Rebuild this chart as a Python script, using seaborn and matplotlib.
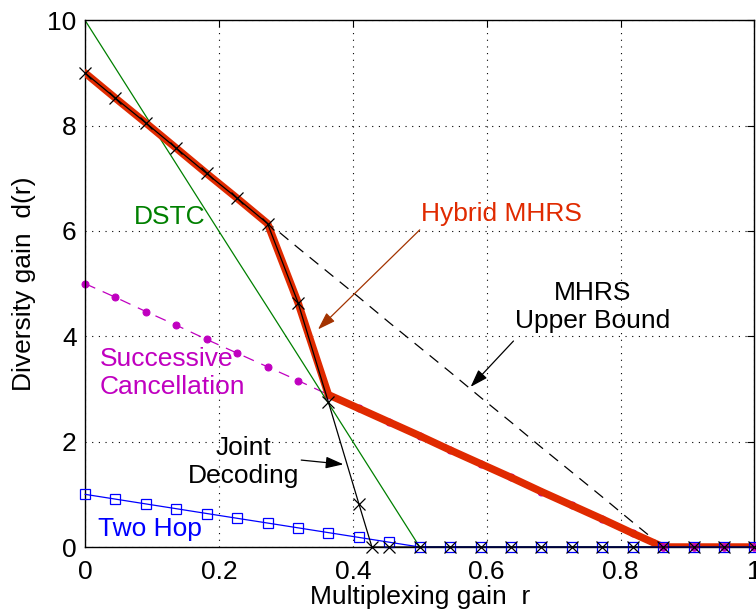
import matplotlib
matplotlib.use("Agg")
import matplotlib.pyplot as plt
import seaborn as sns
import pandas as pd

# ---- data ----
r_grid = [0, 0.0455, 0.0909, 0.1364, 0.1818, 0.2273, 0.2727, 0.3182, 0.3636,
          0.4091, 0.4545, 0.5, 0.5455, 0.5909, 0.6364, 0.6818, 0.7273, 0.7727,
          0.8182, 0.8636, 0.9091, 0.9545, 1.0]

d_hybrid = [9, 8.52, 8.05, 7.57, 7.09, 6.62, 6.14, 4.64, 2.89, 2.63, 2.37, 2.11,
            1.84, 1.58, 1.32, 1.05, 0.79, 0.53, 0.26, 0, 0, 0, 0]

d_upper = [9, 8.53, 8.05, 7.58, 7.11, 6.63, 6.16, 5.68, 5.21, 4.74, 4.26, 3.79,
           3.32, 2.84, 2.37, 1.89, 1.42, 0.95, 0.47, 0, 0, 0, 0]

d_sc = [5, 4.74, 4.47, 4.21, 3.94, 3.68, 3.42, 3.16, 2.89, 2.63, 2.37, 2.11,
        1.84, 1.58, 1.32, 1.05, 0.79, 0.53, 0.26, 0, 0, 0, 0]

d_dstc = [10, 9.09, 8.18, 7.27, 6.36, 5.45, 4.55, 3.64, 2.73, 1.82, 0.91, 0,
          0, 0, 0, 0, 0, 0, 0, 0, 0, 0, 0]

d_twohop = [1, 0.909, 0.818, 0.727, 0.636, 0.545, 0.455, 0.364, 0.273, 0.182,
            0.091, 0, 0, 0, 0, 0, 0, 0, 0, 0, 0, 0, 0]

r_jd = [0, 0.0455, 0.0909, 0.1364, 0.1818, 0.2273, 0.2727, 0.3182, 0.3636,
        0.4091, 0.4286, 0.4545, 0.5, 0.5455, 0.5909, 0.6364, 0.6818, 0.7273,
        0.7727, 0.8182, 0.8636, 0.9091, 0.9545, 1.0]
d_jd = [9, 8.52, 8.05, 7.57, 7.09, 6.62, 6.14, 4.64, 2.75, 0.82, 0, 0, 0, 0,
        0, 0, 0, 0, 0, 0, 0, 0, 0, 0]

x_ticks = [0, 0.2, 0.4, 0.6, 0.8, 1]
x_tick_labels = ["0", "0.2", "0.4", "0.6", "0.8", "1"]
y_ticks = [0, 2, 4, 6, 8, 10]
y_tick_labels = ["0", "2", "4", "6", "8", "10"]

# ---- style ----
sns.set_theme(style="white")
plt.rcParams['font.family'] = ['Liberation Sans', 'DejaVu Sans']
FS = 19

fig = plt.figure(figsize=(7.56, 6.12), dpi=100)
ax = fig.add_axes([0.1124, 0.1062, 0.8856, 0.8608])

df = lambda x, y: pd.DataFrame({"r": x, "d": y})

RED = "#e02a00"
MAG = "#c000c0"
GREEN = "#008000"
DASH = (0, (9, 6.5))

# Successive cancellation
sns.lineplot(data=df(r_grid, d_sc), x="r", y="d", ax=ax, sort=False,
             color=MAG, linestyle=DASH, linewidth=0.9,
             marker="o", markersize=5, markeredgecolor=MAG,
             markerfacecolor=MAG, zorder=2, clip_on=False)
# DSTC
sns.lineplot(data=df(r_grid, d_dstc), x="r", y="d", ax=ax, sort=False,
             color=GREEN, linewidth=0.9, zorder=2)
# Upper bound
sns.lineplot(data=df(r_grid, d_upper), x="r", y="d", ax=ax, sort=False,
             color="black", linestyle=DASH, linewidth=0.9, zorder=2)
# Hybrid MHRS
sns.lineplot(data=df(r_grid, d_hybrid), x="r", y="d", ax=ax, sort=False,
             color=RED, linewidth=5.4, zorder=3, solid_joinstyle="miter")
# Two hop
sns.lineplot(data=df(r_grid, d_twohop), x="r", y="d", ax=ax, sort=False,
             color="blue", linewidth=0.9, marker="s", markersize=6.5,
             markerfacecolor="none", markeredgecolor="blue",
             markeredgewidth=0.9, zorder=4, clip_on=False)
# Joint decoding
sns.lineplot(data=df(r_jd, d_jd), x="r", y="d", ax=ax, sort=False,
             color="black", linewidth=0.9, marker="x", markersize=9,
             markeredgecolor="black", markeredgewidth=0.9, zorder=5,
             clip_on=False)
# SC markers at zero on top of the thick line
sc_zero = df(r_grid, d_sc)
sc_zero = sc_zero[sc_zero["r"] >= 0.86]
ax.plot(sc_zero["r"], sc_zero["d"], linestyle="none", marker="o",
        markersize=5, color=MAG, zorder=4.5, clip_on=False)

ax.set_xlim(0, 1)
ax.set_ylim(0, 10)
ax.set_xticks(x_ticks)
ax.set_xticklabels(x_tick_labels)
ax.set_yticks(y_ticks)
ax.set_yticklabels(y_tick_labels)
ax.tick_params(direction="in", length=5, width=0.8, top=True, right=True,
               labelsize=FS, colors="black")
ax.tick_params(axis="x", pad=9)
ax.tick_params(axis="y", pad=6)
ax.grid(True, color="black", linestyle=(0, (1, 5)), linewidth=0.8)
for s in ax.spines.values():
    s.set_color("black")
    s.set_linewidth(1.0)
    s.set_visible(True)

ax.set_xlabel("Multiplexing gain  r", fontsize=FS, labelpad=1, color="black")
ax.set_ylabel("Diversity gain  d(r)", fontsize=FS, labelpad=8, color="black")

# ---- annotations ----
ax.text(0.127, 6.26, "DSTC", color=GREEN, fontsize=FS, ha="center", va="center")
ax.text(0.622, 6.32, "Hybrid MHRS", color=RED, fontsize=FS, ha="center", va="center")
ax.text(0.758, 4.55, "MHRS\nUpper Bound", color="black", fontsize=FS,
        ha="center", va="center", linespacing=1.2)
ax.text(0.022, 3.30, "Successive\nCancellation", color=MAG, fontsize=FS,
        ha="left", va="center", linespacing=1.2)
ax.text(0.237, 1.62, "Joint\nDecoding", color="black", fontsize=FS,
        ha="center", va="center", linespacing=1.2)
ax.text(0.097, 0.34, "Two Hop", color="blue", fontsize=FS, ha="center", va="center")

arrow_kw = dict(arrowstyle="-|>,head_length=0.9,head_width=0.3", lw=0.9,
                shrinkA=0, shrinkB=0)
ax.annotate("", xy=(0.348, 4.13), xytext=(0.5, 6.02),
            arrowprops=dict(color="#a33300", **arrow_kw), zorder=6)
ax.annotate("", xy=(0.576, 3.04), xytext=(0.640, 3.91),
            arrowprops=dict(color="black", **arrow_kw), zorder=6)
ax.annotate("", xy=(0.386, 1.57), xytext=(0.323, 1.65),
            arrowprops=dict(color="black", **arrow_kw), zorder=6)

fig.savefig("out.png", dpi=100)
